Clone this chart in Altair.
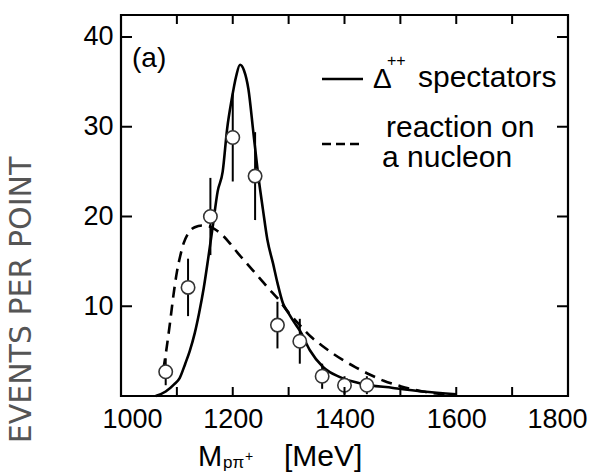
import altair as alt
import pandas as pd

# ---------------- data ----------------
solid_x = [1062, 1080, 1095, 1105, 1115, 1123, 1132, 1140, 1148, 1156, 1164, 1173, 1182, 1190,
           1198, 1206, 1213, 1220, 1228, 1237, 1246, 1254, 1262, 1272, 1280, 1290, 1300, 1310,
           1320, 1338, 1362, 1392, 1428, 1487, 1540, 1600]
solid_y = [0.0, 0.5, 1.3, 2.0, 3.6, 5.0, 7.0, 9.3, 12.0, 15.3, 18.8, 22.8, 25.0, 29.8,
           33.0, 35.6, 36.9, 36.3, 34.2, 29.3, 24.4, 20.8, 17.4, 14.8, 12.6, 10.3, 9.2, 8.2,
           7.3, 5.1, 3.2, 2.1, 1.4, 0.9, 0.5, 0.2]

dash_x = [1076, 1082, 1088, 1094, 1100, 1106, 1112, 1120, 1132, 1145, 1158, 1170, 1182, 1195,
          1208, 1222, 1236, 1250, 1264, 1280, 1300, 1320, 1340, 1360, 1380, 1400, 1420, 1445,
          1470, 1500, 1540, 1600]
dash_y = [3.0, 5.5, 8.3, 11.3, 13.8, 15.6, 17.0, 18.1, 18.8, 19.0, 18.9, 18.5, 17.9, 17.0,
          16.0, 15.0, 14.0, 13.0, 12.0, 10.9, 9.3, 7.9, 6.6, 5.6, 4.7, 3.9, 3.2, 2.4,
          1.7, 1.1, 0.5, 0.1]

pts_x = [1080, 1120, 1160, 1200, 1240, 1280, 1320, 1360, 1400, 1440]
pts_y = [2.7, 12.1, 20.0, 28.8, 24.5, 7.9, 6.1, 2.2, 1.2, 1.2]
pts_err = [1.5, 3.2, 4.3, 4.9, 4.9, 2.6, 2.5, 1.4, 1.0, 1.0]

x_labels = [1000, 1200, 1400, 1600, 1800]
x_minor = [1100, 1200, 1300, 1400, 1500, 1600, 1700]
y_labels = [10, 20, 30, 40]

legend_solid = "spectators"
legend_dash_1 = "reaction on"
legend_dash_2 = "a nucleon"
panel_label = "(a)"
y_title = "EVENTS PER POINT"

# ---------------- chart ----------------
W, H = 447, 381
FONT = "Liberation Sans"

xs = alt.Scale(domain=[1000, 1800], nice=False, zero=False)
ys = alt.Scale(domain=[0, 42.45], nice=False, zero=False)

solid = pd.DataFrame({"m": solid_x, "n": solid_y})
dash = pd.DataFrame({"m": dash_x, "n": dash_y})
pts = pd.DataFrame({"m": pts_x, "n": pts_y,
                    "lo": [v - e for v, e in zip(pts_y, pts_err)],
                    "hi": [v + e for v, e in zip(pts_y, pts_err)]})

X = alt.X("m:Q", scale=xs,
          axis=alt.Axis(values=x_labels, format="d", title=None, labelFlush=True,
                        labelFlushOffset=19, labelPadding=10, labelFont=FONT,
                        labelFontSize=27))
Y = alt.Y("n:Q", scale=ys,
          axis=alt.Axis(values=y_labels, format="d", title=None, labelPadding=8,
                        labelFont=FONT, labelFontSize=27))

solid_line = alt.Chart(solid).mark_line(color="black", strokeWidth=2.6,
                                        interpolate="monotone").encode(x=X, y=Y)
dash_line = alt.Chart(dash).mark_line(color="black", strokeWidth=2.6, strokeDash=[11, 7],
                                      interpolate="monotone").encode(x="m:Q", y="n:Q")
err = alt.Chart(pts).mark_rule(color="black", strokeWidth=2).encode(
    x="m:Q", y="lo:Q", y2="hi:Q")
circ = alt.Chart(pts).mark_point(shape="circle", size=180, fill="white", fillOpacity=1,
                                 stroke="#333", strokeWidth=1.6, opacity=1).encode(
    x="m:Q", y="n:Q")

xt = pd.DataFrame({"m": x_minor})
yt = pd.DataFrame({"n": y_labels})
tick_b = alt.Chart(xt).mark_rule(color="black", strokeWidth=2).encode(
    x="m:Q", y=alt.value(H), y2=alt.value(H - 9))
tick_t = alt.Chart(xt).mark_rule(color="black", strokeWidth=2).encode(
    x="m:Q", y=alt.value(0), y2=alt.value(9))
tick_l = alt.Chart(yt).mark_rule(color="black", strokeWidth=2).encode(
    y="n:Q", x=alt.value(0), x2=alt.value(11))
tick_r = alt.Chart(yt).mark_rule(color="black", strokeWidth=2).encode(
    y="n:Q", x=alt.value(W), x2=alt.value(W - 11))


def label(text, x, y, size, font=FONT, angle=0, align="left", baseline="alphabetic",
          color="black"):
    return alt.Chart(pd.DataFrame({"t": [text]})).mark_text(
        font=font, fontSize=size, align=align, baseline=baseline, angle=angle,
        color=color).encode(text="t:N", x=alt.value(x), y=alt.value(y))


leg_solid = alt.Chart(pd.DataFrame({"k": [0]})).mark_rule(color="black", strokeWidth=2.6).encode(
    x=alt.value(201), x2=alt.value(242), y=alt.value(64))
leg_dash = alt.Chart(pd.DataFrame({"k": [0]})).mark_rule(color="black", strokeWidth=2.6,
                                                         strokeDash=[9, 5]).encode(
    x=alt.value(201), x2=alt.value(242), y=alt.value(129))

texts = [
    label(panel_label, 11, 52, 28),
    label("Δ", 252, 73, 28),
    label("++", 266, 51, 16),
    label(legend_solid, 297, 72, 30),
    label(legend_dash_1, 265, 122, 30),
    label(legend_dash_2, 261, 152, 30),
    label("M", 77, 451, 29),
    label("pπ", 102, 453, 17),
    label("+", 124, 446, 14),
    label("[MeV]", 163, 451, 30),
    label(y_title, -99, 285, 30, font="DejaVu Sans", angle=270, align="center",
          baseline="middle", color="#555"),
]

chart = alt.layer(solid_line, dash_line, err, circ, tick_b, tick_t, tick_l, tick_r,
                  leg_solid, leg_dash, *texts).properties(
    width=W, height=H,
    autosize=alt.AutoSizeParams(type="none"),
    padding={"left": 121, "top": 15, "right": 21, "bottom": 77},
    background="white",
).configure_view(stroke="black", strokeWidth=2.2).configure_axis(
    domain=False, grid=False, ticks=False, labelColor="black")

chart.save("out.html", embed_options={"renderer": "svg", "actions": False})
